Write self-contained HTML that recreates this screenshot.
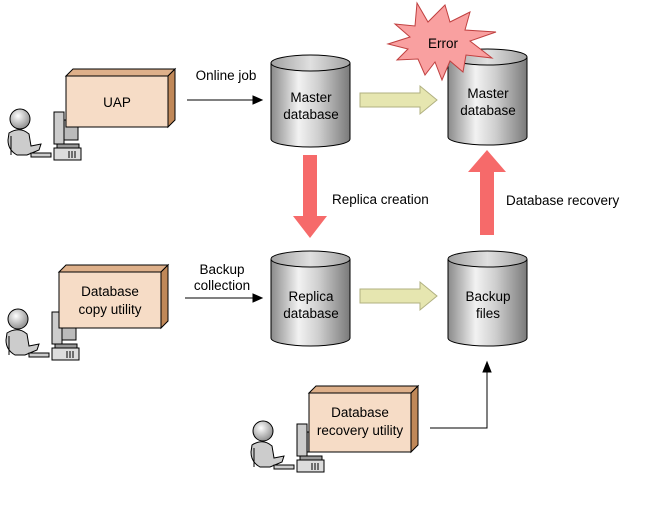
<!DOCTYPE html>
<html><head><meta charset="utf-8"><style>
body{margin:0;background:#fff}
svg{display:block;font-family:"Liberation Sans",sans-serif;font-size:13.5px}
</style></head><body>
<svg width="653" height="508" viewBox="0 0 653 508" xmlns="http://www.w3.org/2000/svg">
<defs>
<linearGradient id="cyl" x1="0" x2="1" y1="0" y2="0">
<stop offset="0" stop-color="#8a8a8a"/><stop offset="0.35" stop-color="#f2f2f2"/><stop offset="0.6" stop-color="#cfcfcf"/><stop offset="1" stop-color="#7a7a7a"/>
</linearGradient>
<linearGradient id="top" x1="0" x2="1"><stop offset="0" stop-color="#a0a0a0"/><stop offset="0.5" stop-color="#e0e0e0"/><stop offset="1" stop-color="#a0a0a0"/></linearGradient>
<radialGradient id="head" cx="0.4" cy="0.35" r="0.7"><stop offset="0" stop-color="#fff"/><stop offset="1" stop-color="#888"/></radialGradient>
<g id="person">
<rect x="53" y="0" width="10" height="32" fill="#ccc" stroke="#000"/>
<rect x="63" y="8" width="14" height="20" fill="#bbb" stroke="#000"/>
<rect x="56" y="32" width="22" height="4" fill="#999" stroke="#000"/>
<rect x="53" y="36" width="27" height="12" fill="#ddd" stroke="#000"/>
<path d="M68 39v7M71 39v7M74 39v7" stroke="#000"/>
<circle cx="19" cy="7" r="10" fill="url(#head)" stroke="#000"/>
<path d="M8 21 Q19 14 28 22 L30 34 L40 32 L38 38 L26 43 L16 43 Q7 38 7 28 Z" fill="#ccc" stroke="#000"/>
<path d="M10 24 L10 43" stroke="#000"/>
<rect x="30" y="41" width="20" height="4" fill="#ccc" stroke="#000"/>
</g>
</defs>

<use href="#person" x="1" y="112"/>
<use href="#person" x="-1" y="312"/>
<use href="#person" x="244" y="424"/>

<g stroke="#000">
<polygon points="66,76 73,69 175,69 168,76" fill="#deb08a"/>
<polygon points="168,76 175,69 175,120 168,127" fill="#c08858"/>
<rect x="66" y="76" width="102" height="51" fill="#f6dcc6"/>
<polygon points="59,272 66,265 168,265 161,272" fill="#deb08a"/>
<polygon points="161,272 168,265 168,321 161,328" fill="#c08858"/>
<rect x="59" y="272" width="102" height="56" fill="#f6dcc6"/>
<polygon points="309,393 316,386 418,386 411,393" fill="#deb08a"/>
<polygon points="411,393 418,386 418,445 411,452" fill="#c08858"/>
<rect x="309" y="393" width="102" height="59" fill="#f6dcc6"/>
</g>
<text x="117" y="107" text-anchor="middle">UAP</text>
<text x="110" y="296" text-anchor="middle">Database</text>
<text x="110" y="314" text-anchor="middle">copy utility</text>
<text x="360" y="417" text-anchor="middle">Database</text>
<text x="360" y="435" text-anchor="middle">recovery utility</text>

<g stroke="#000">
<path d="M271 63 v76 a39.5 8 0 0 0 79 0 v-76" fill="url(#cyl)"/><ellipse cx="310.5" cy="63" rx="39.5" ry="8" fill="url(#top)"/>
<path d="M448 57 v80 a39.5 8 0 0 0 79 0 v-80" fill="url(#cyl)"/><ellipse cx="487.5" cy="57" rx="39.5" ry="8" fill="url(#top)"/>
<path d="M271 259 v79 a39.5 8 0 0 0 79 0 v-79" fill="url(#cyl)"/><ellipse cx="310.5" cy="259" rx="39.5" ry="8" fill="url(#top)"/>
<path d="M448 259 v79 a39.5 8 0 0 0 79 0 v-79" fill="url(#cyl)"/><ellipse cx="487.5" cy="259" rx="39.5" ry="8" fill="url(#top)"/>
</g>
<text x="311" y="102" text-anchor="middle">Master</text><text x="311" y="119" text-anchor="middle">database</text>
<text x="488" y="98" text-anchor="middle">Master</text><text x="488" y="115" text-anchor="middle">database</text>
<text x="311" y="301" text-anchor="middle">Replica</text><text x="311" y="318" text-anchor="middle">database</text>
<text x="488" y="301" text-anchor="middle">Backup</text><text x="488" y="318" text-anchor="middle">files</text>

<polygon fill="#f9a0a0" stroke="#c04040" points="417,3 428,22 445,5 450,22 470,12 465,30 496,32 470,41 492,58 466,55 463,72 450,61 442,80 435,62 425,75 418,59 397,60 408,49 388,44 410,37 395,24 415,26" />
<text x="443" y="48" text-anchor="middle">Error</text>

<polygon points="360,93 420,93 420,86 437,100 420,114 420,107 360,107" fill="#e6e6b0" stroke="#b0b080"/>
<polygon points="360,289 420,289 420,282 437,296 420,310 420,303 360,303" fill="#e6e6b0" stroke="#b0b080"/>

<polygon points="303,155 317,155 317,216 327,216 310,238 293,216 303,216" fill="#f66a6a"/>
<polygon points="480,235 494,235 494,172 506,172 487,150 468,172 480,172" fill="#f66a6a"/>
<text x="332" y="204">Replica creation</text>
<text x="506" y="205">Database recovery</text>

<g stroke="#000" fill="#000">
<line x1="187" y1="100" x2="255" y2="100"/><polygon points="262,100 253,96 253,104"/>
<line x1="185" y1="298" x2="255" y2="298"/><polygon points="262,298 253,294 253,302"/>
<polyline points="430,428 487,428 487,370" fill="none"/><polygon points="487,362 483,372 491,372"/>
</g>
<text x="226" y="80" text-anchor="middle">Online job</text>
<text x="222" y="274" text-anchor="middle">Backup</text>
<text x="222" y="290" text-anchor="middle">collection</text>
</svg>
</body></html>
